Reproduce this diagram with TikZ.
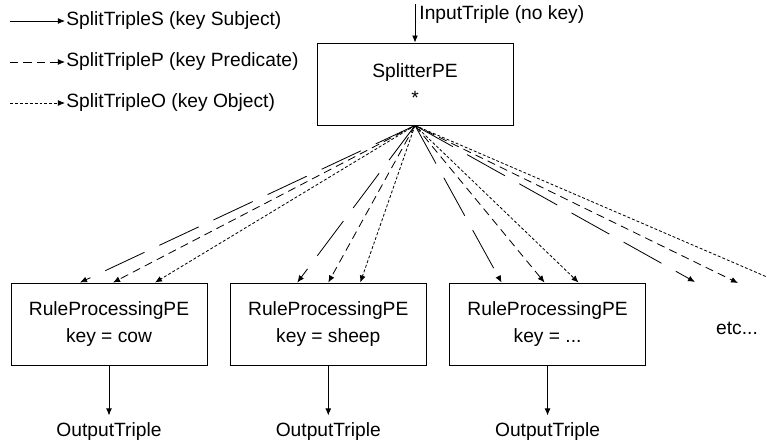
\documentclass[tikz,border=0pt]{standalone}
\usepackage{fontspec}
\setmainfont{Liberation Sans}
\usetikzlibrary{calc,positioning,arrows.meta}
\tikzset{
    peBox/.style={draw, line width=0.8pt, minimum width=5.88cm, minimum height=2.46cm, align=center, font=\fontsize{16.4}{23}\selectfont},
    txt/.style={font=\fontsize{16.4}{20}\selectfont, inner sep=1pt},
    tip/.style={-{Latex[length=6pt,width=5pt]}, line width=0.7pt},
    tripleS/.style={tip, dash pattern=on 37pt off 14pt},
    tripleP/.style={tip, dash pattern=on 7pt off 4.5pt},
    tripleO/.style={tip, dash pattern=on 2.5pt off 1.7pt},
    node distance=0.67cm
}

\begin{document}
\begin{tikzpicture}[x=0.03cm, y=-0.03cm]
    \useasboundingbox (0,0) rectangle (767,445);

    % legend
    \node[txt, anchor=west] (legS) at (65,21) {SplitTripleS (key Subject)};
    \node[txt, anchor=west] (legP) at (65,62) {SplitTripleP (key Predicate)};
    \node[txt, anchor=west] (legO) at (65,103) {SplitTripleO (key Object)};
    \coordinate (legS0) at (10,21);
    \coordinate (legP0) at (10,62);
    \coordinate (legO0) at (10,103);
    \draw[tip] (legS0) -- (legS.west);
    \draw[tripleP] (legP0) -- (legP.west);
    \draw[tripleO] (legO0) -- (legO.west);

    % splitter
    \node[peBox] (split) at (415,84) {SplitterPE\\*};
    \coordinate (in) at (415,4);
    \draw[tip] (in) -- (split);
    \node[txt, anchor=west] (inLbl) at (418,15) {InputTriple (no key)};

    % rule processing PEs
    \node[peBox] (rp1) at (109,324) {RuleProcessingPE\\key = cow};
    \node[peBox, right=of rp1] (rp2) {RuleProcessingPE\\key = sheep};
    \node[peBox, right=of rp2] (rp3) {RuleProcessingPE\\key = ...};
    \node[txt] (etc) at (737,328) {etc...};

    \foreach \pe in {rp1,rp2,rp3}{
        \node[txt, inner sep=6pt, below=1.5cm of \pe] (out\pe) {OutputTriple};
        \draw[tip] (\pe) -- (out\pe);
    }

    % split triples
    \foreach \pe/\s/\p/\o in {rp1/-29/4/46, rp2/-31/0/32, rp3/-46/-3/31}{
        \draw[tripleS] (split.south) -- ($(\pe.north)+(\s,0)$);
        \draw[tripleP] (split.south) -- ($(\pe.north)+(\p,0)$);
        \draw[tripleO] (split.south) -- ($(\pe.north)+(\o,0)$);
    }
    \coordinate (etcS) at (695,282);
    \coordinate (etcP) at (738,283);
    \coordinate (etcO) at (767,277);
    \draw[tripleS] (split.south) -- (etcS);
    \draw[tripleP] (split.south) -- (etcP);
    \draw[tripleO, -] (split.south) -- (etcO);
\end{tikzpicture}
\end{document}
